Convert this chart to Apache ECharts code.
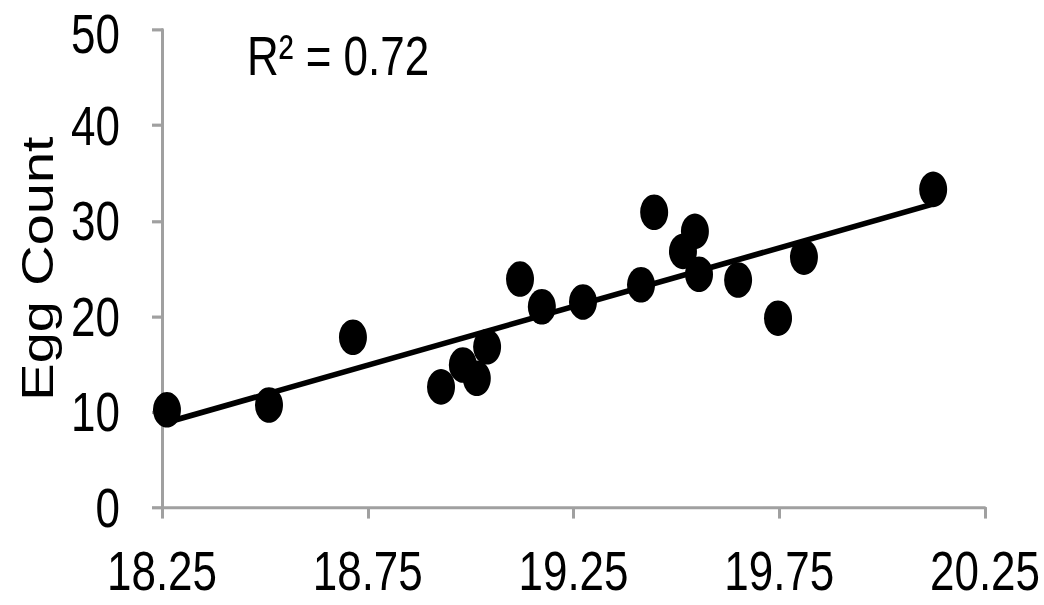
<!DOCTYPE html>
<html lang="en">
<head>
    <meta charset="UTF-8">
    <title>Egg Count</title>
    <script src="https://cdn.jsdelivr.net/npm/echarts@6/dist/echarts.min.js"></script>
    <style>
        html, body { margin: 0; padding: 0; background: #fff; }
        #wrap { width: 1044px; height: 605px; overflow: hidden; }
        /* the reference is drawn tall: render at 476px and stretch vertically to 605px */
        #chart { width: 1044px; height: 476px; transform: scaleY(1.271); transform-origin: 0 0; }
    </style>
</head>
<body>
    <div id="wrap"><div id="chart"></div></div>
    <script>
        // values
        const xValues = [18.262, 18.510, 18.714, 18.928, 18.981, 19.015, 19.040, 19.120, 19.173, 19.273,
            19.414, 19.446, 19.516, 19.545, 19.555, 19.650, 19.747, 19.810, 20.124];
        const eggCounts = [10.2, 10.7, 17.8, 12.6, 14.9, 13.5, 16.8, 23.9, 21.0, 21.5,
            23.3, 30.9, 26.8, 28.9, 24.4, 23.8, 19.8, 26.2, 33.3];
        const xTicks = [18.25, 18.75, 19.25, 19.75, 20.25];
        const yTicks = [0, 10, 20, 30, 40, 50];
        const rSquaredText = 'R² = 0.72';

        // least squares trend line over the points
        function trendLine(xs, ys) {
            let n = xs.length, sx = 0, sy = 0, sxy = 0, sxx = 0;
            for (let i = 0; i < n; i++) {
                sx += xs[i]; sy += ys[i];
                sxy += xs[i] * ys[i]; sxx += xs[i] * xs[i];
            }
            let slope = (n * sxy - sx * sy) / (n * sxx - sx * sx);
            let icpt = (sy - slope * sx) / n;
            let x0 = Math.min(...xs), x1 = Math.max(...xs);
            return [[x0, icpt + slope * x0], [x1, icpt + slope * x1]];
        }

        let points = xValues.map((x, i) => [x, eggCounts[i]]);
        let myChart = echarts.init(document.getElementById('chart'), null, { renderer: 'svg' });
        let axisColor = '#a0a0a0';
        let font = '"Liberation Sans", Arial, sans-serif';
        let yMax = yTicks[yTicks.length - 1];

        let option = {
            animation: false,
            grid: { left: 162, right: 59, top: 23.6, bottom: 77, outerBoundsMode: 'none' },
            xAxis: {
                type: 'value',
                min: xTicks[0],
                max: xTicks[xTicks.length - 1],
                interval: xTicks[1] - xTicks[0],
                splitLine: { show: false },
                axisLine: { lineStyle: { color: axisColor, width: 2.5 } },
                axisTick: { show: true, length: 9, lineStyle: { color: axisColor, width: 3 } },
                axisLabel: {
                    color: '#000', fontSize: 44, lineHeight: 36, fontFamily: font, margin: 32,
                    formatter: v => v.toFixed(2)
                }
            },
            yAxis: {
                type: 'value',
                min: yTicks[0],
                max: yMax,
                interval: yTicks[1] - yTicks[0],
                name: 'Egg Count',
                nameLocation: 'middle',
                nameGap: 101,
                nameRotate: 90,
                nameTextStyle: { color: '#000', fontSize: 44, fontFamily: font },
                splitLine: { show: false },
                axisLine: { show: true, lineStyle: { color: axisColor, width: 3 } },
                axisTick: { show: true, length: 10, lineStyle: { color: axisColor, width: 2.5 } },
                axisLabel: {
                    color: '#000', fontSize: 44, lineHeight: 36, fontFamily: font, margin: 42,
                    // nudge the top label down a little so it stays inside the frame
                    formatter: v => v === yMax ? '{top|' + v + '}' : String(v),
                    rich: { top: { fontSize: 44, lineHeight: 36, fontFamily: font, color: '#000', padding: [5, 0, 0, 0] } }
                }
            },
            graphic: [{
                type: 'text',
                left: 247,
                top: 22,
                style: { text: rSquaredText, fill: '#000', fontSize: 44, fontFamily: font }
            }],
            series: [{
                type: 'scatter',
                data: points,
                symbol: 'circle',
                symbolSize: 28,
                itemStyle: { color: '#000', opacity: 1 },
                z: 3
            }, {
                type: 'line',
                data: trendLine(xValues, eggCounts),
                showSymbol: false,
                lineStyle: { color: '#000', width: 4.5 },
                z: 4
            }]
        };
        myChart.setOption(option);
    </script>
</body>
</html>
